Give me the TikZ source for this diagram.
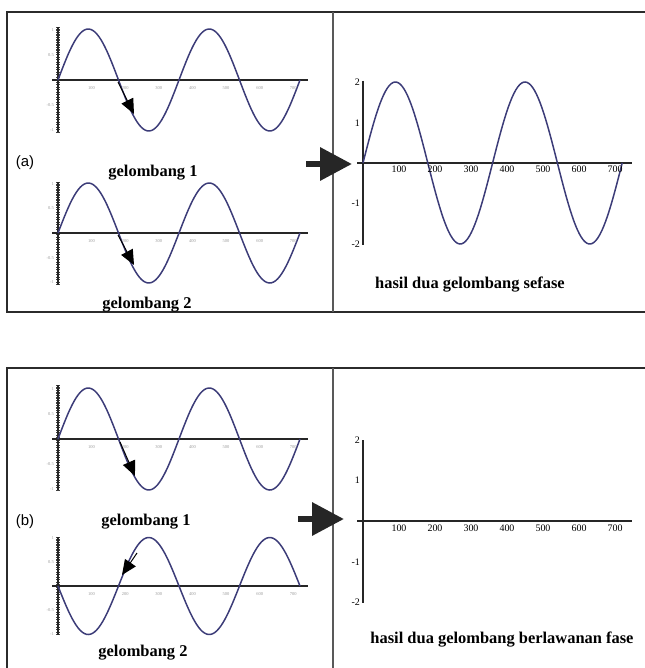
\documentclass[tikz,border=0pt]{standalone}
\usepackage{fontspec}
\setmainfont{Liberation Serif}
\newfontfamily\panelfont{Liberation Sans}
\usetikzlibrary{arrows.meta}
\definecolor{waveBlue}{HTML}{3C3C78}
\definecolor{frameGray}{HTML}{2B2B2B}
\definecolor{tickGray}{HTML}{9A9A9A}

\begin{document}
\begin{tikzpicture}[
  x=1bp, y=-1bp,
  frame/.style={draw=frameGray, line width=2pt},
  divider/.style={draw=gray!70!black, line width=2.2pt},
  wave/.style={draw=waveBlue, line width=1.5pt},
  ruler/.style={draw=black!75, line width=4pt, dash pattern=on 1.1pt off 1.4pt},
  axisline/.style={draw=black!85, line width=1.2pt},
  caption/.style={font=\bfseries\fontsize{16.5}{18}\selectfont, inner sep=1pt},
  tag/.style={font=\panelfont\fontsize{15}{17}\selectfont, inner sep=1pt},
  ticklbl/.style={font=\fontsize{4.5}{5}\selectfont, text=tickGray, inner sep=1pt},
  numlbl/.style={font=\fontsize{10}{11}\selectfont, inner sep=1pt},
  pointer/.style={draw=black, line width=1pt, -{Triangle[length=15pt, width=13pt]}},
  bigarrow/.style={draw=black!85, line width=6.5pt, -{Triangle[length=32pt, width=32pt]}}
]
\useasboundingbox (0,0) rectangle (645,668);

% frames
\draw[frame] (646,12) -- (7,12) -- (7,312) -- (646,312);
\draw[divider] (333,12) -- (333,312);
\draw[frame] (646,368) -- (7,368) -- (7,669);
\draw[divider] (333,368) -- (333,669);

% (a) gelombang 1
\begin{scope}[shift={(58,80)}]
  \path[ruler] (0,-53) -- (0,52);
  \draw[axisline] (0,-53) -- (0,52);
  \path[ruler, line width=2.5pt] (-6,0) -- (250,0);
  \draw[axisline] (-6,0) -- (250,0);
  \draw[wave] plot[domain=0:720, samples=120] ({\x*0.33611}, {-51*sin(\x)});
  \foreach \v in {100,200,...,700}
    \node[ticklbl] (a1x\v) at ({\v*0.33611}, 8) {\v};
  \node[ticklbl, anchor=east] (a1y1) at (-3,-50) {1};
  \node[ticklbl, anchor=east] (a1y2) at (-3,-25) {0.5};
  \node[ticklbl, anchor=east] (a1y3) at (-3,25) {-0.5};
  \node[ticklbl, anchor=east] (a1y4) at (-3,50) {-1};
\end{scope}

% (a) gelombang 2
\begin{scope}[shift={(58,233)}]
  \path[ruler] (0,-51) -- (0,52);
  \draw[axisline] (0,-51) -- (0,52);
  \path[ruler, line width=2.5pt] (-6,0) -- (250,0);
  \draw[axisline] (-6,0) -- (250,0);
  \draw[wave] plot[domain=0:720, samples=120] ({\x*0.33611}, {-50*sin(\x)});
  \foreach \v in {100,200,...,700}
    \node[ticklbl] (a2x\v) at ({\v*0.33611}, 8) {\v};
  \node[ticklbl, anchor=east] (a2y1) at (-3,-49) {1};
  \node[ticklbl, anchor=east] (a2y2) at (-3,-25) {0.5};
  \node[ticklbl, anchor=east] (a2y3) at (-3,25) {-0.5};
  \node[ticklbl, anchor=east] (a2y4) at (-3,49) {-1};
\end{scope}

% (a) hasil
\begin{scope}[shift={(363,163)}]
  \path[ruler, line width=2.5pt] (0,-82) -- (0,82);
  \draw[axisline] (0,-82) -- (0,82);
  \draw[axisline, line width=1.5pt] (-6,0) -- (269,0);
  \draw[wave] plot[domain=0:720, samples=140] ({\x*0.36}, {-81*sin(\x)});
  \foreach \v in {100,200,...,700}
    \node[numlbl, anchor=north] (rax\v) at ({\v*0.36}, 2) {\v};
  \node[numlbl, anchor=east] (ray1) at (-2,-81) {2};
  \node[numlbl, anchor=east] (ray2) at (-2,-40) {1};
  \node[numlbl, anchor=east] (ray3) at (-2,40) {-1};
  \node[numlbl, anchor=east] (ray4) at (-2,81) {-2};
\end{scope}

% (b) gelombang 1
\begin{scope}[shift={(58,439)}]
  \path[ruler] (0,-54) -- (0,51);
  \draw[axisline] (0,-54) -- (0,51);
  \path[ruler, line width=2.5pt] (-6,0) -- (250,0);
  \draw[axisline] (-6,0) -- (250,0);
  \draw[wave] plot[domain=0:720, samples=120] ({\x*0.33611}, {-51*sin(\x)});
  \foreach \v in {100,200,...,700}
    \node[ticklbl] (b1x\v) at ({\v*0.33611}, 8) {\v};
  \node[ticklbl, anchor=east] (b1y1) at (-3,-50) {1};
  \node[ticklbl, anchor=east] (b1y2) at (-3,-25) {0.5};
  \node[ticklbl, anchor=east] (b1y3) at (-3,25) {-0.5};
  \node[ticklbl, anchor=east] (b1y4) at (-3,50) {-1};
\end{scope}

% (b) gelombang 2
\begin{scope}[shift={(58,586)}]
  \path[ruler] (0,-49) -- (0,49);
  \draw[axisline] (0,-49) -- (0,49);
  \path[ruler, line width=2.5pt] (-6,0) -- (250,0);
  \draw[axisline] (-6,0) -- (250,0);
  \draw[wave] plot[domain=0:720, samples=120] ({\x*0.33611}, {48.5*sin(\x)});
  \foreach \v in {100,200,...,700}
    \node[ticklbl] (b2x\v) at ({\v*0.33611}, 8) {\v};
  \node[ticklbl, anchor=east] (b2y1) at (-3,-48) {1};
  \node[ticklbl, anchor=east] (b2y2) at (-3,-24) {0.5};
  \node[ticklbl, anchor=east] (b2y3) at (-3,24) {-0.5};
  \node[ticklbl, anchor=east] (b2y4) at (-3,48) {-1};
\end{scope}

% (b) hasil
\begin{scope}[shift={(363,521)}]
  \path[ruler, line width=2.5pt] (0,-81) -- (0,82);
  \draw[axisline] (0,-81) -- (0,82);
  \draw[axisline, line width=1.5pt] (-6,0) -- (269,0);
  \foreach \v in {100,200,...,700}
    \node[numlbl, anchor=north] (rbx\v) at ({\v*0.36}, 3) {\v};
  \node[numlbl, anchor=east] (rby1) at (-2,-81) {2};
  \node[numlbl, anchor=east] (rby2) at (-2,-41) {1};
  \node[numlbl, anchor=east] (rby3) at (-2,41) {-1};
  \node[numlbl, anchor=east] (rby4) at (-2,81) {-2};
\end{scope}

% labels
\node[tag] (taga) at (25,163) {(a)};
\node[caption] (a1cap) at (153,173) {gelombang 1};
\node[caption] (a2cap) at (147,305) {gelombang 2};
\node[caption] (racap) at (470,285) {hasil dua gelombang sefase};
\node[tag] (tagb) at (25,522) {(b)};
\node[caption] (b1cap) at (146,522) {gelombang 1};
\node[caption] (b2cap) at (143,653) {gelombang 2};
\node[caption] (rbcap) at (502,640) {hasil dua gelombang berlawanan fase};

% pointers on the waves
\coordinate (a1from) at (118,82);
\coordinate (a1to) at (134,114);
\coordinate (a2from) at (118,235);
\coordinate (a2to) at (134,265);
\coordinate (b1from) at (120,442);
\coordinate (b1to) at (135,476);
\coordinate (b2from) at (137,553);
\coordinate (b2to) at (122,575);
\draw[pointer] (a1from) -- (a1to);
\draw[pointer] (a2from) -- (a2to);
\draw[pointer] (b1from) -- (b1to);
\draw[pointer] (b2from) -- (b2to);

% big arrows
\coordinate (atail) at (306,164);
\coordinate (ahead) at (352,164);
\coordinate (btail) at (298,519);
\coordinate (bhead) at (344,519);
\draw[bigarrow] (atail) -- (ahead);
\draw[bigarrow] (btail) -- (bhead);

\end{tikzpicture}
\end{document}
